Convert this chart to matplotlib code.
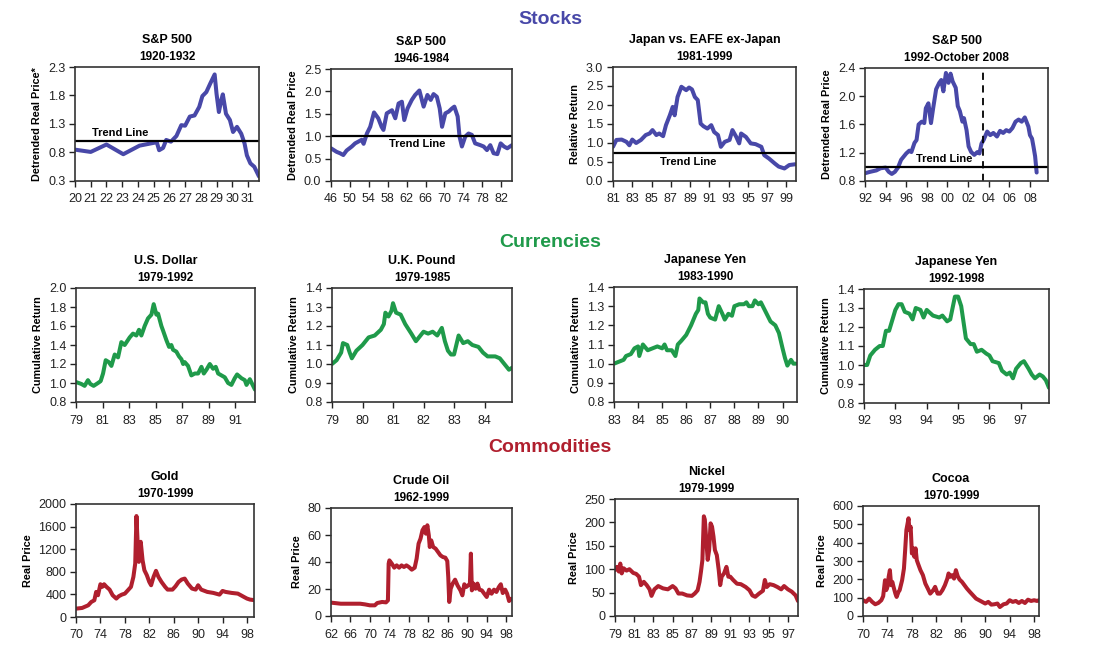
import matplotlib
matplotlib.use("Agg")
import matplotlib.pyplot as plt
from matplotlib.ticker import FuncFormatter

plt.rcParams['font.family'] = ['Liberation Sans', 'DejaVu Sans']

BLUE = '#4848a8'
GREEN = '#1f9a4a'
RED = '#b01f2e'

# ---- Stocks ----
sp1_x = [20, 21, 22, 23.07, 24.1, 25.2, 25.35, 25.6, 25.8, 26.1, 26.45, 26.76, 27.0, 27.3,
         27.6, 27.9, 28.1, 28.35, 28.6, 28.88, 29.0, 29.15, 29.3, 29.4, 29.6, 29.85, 30.05,
         30.3, 30.57, 30.78, 30.93, 31.15, 31.4, 31.7]
sp1_y = [0.85, 0.81, 0.94, 0.77, 0.92, 0.98, 0.84, 0.88, 1.02, 0.99, 1.09, 1.28, 1.27, 1.43,
         1.45, 1.60, 1.79, 1.86, 2.01, 2.17, 1.83, 1.51, 1.72, 1.82, 1.48, 1.37, 1.16,
         1.25, 1.13, 0.96, 0.75, 0.61, 0.55, 0.38]

sp2_x = [46, 47.2, 47.9, 48.6, 49.3, 50.4, 51.1, 51.8, 52.5, 52.9, 53.6, 54.3, 55.1, 56.0,
         56.7, 57.1, 57.8, 58.9, 59.6, 60.3, 61.0, 61.5, 62.2, 63.1, 63.8, 64.7, 65.6, 66.4,
         67.1, 67.7, 68.4, 69.0, 69.5, 70.2, 70.9, 71.6, 72.1, 72.8, 73.2, 73.7, 74.4, 75.1,
         75.8, 76.5, 77.6, 78.3, 79.0, 79.7, 80.4, 81.2, 81.9, 82.6, 83.3, 84.3]
sp2_y = [0.73, 0.65, 0.62, 0.58, 0.68, 0.77, 0.84, 0.88, 0.92, 0.83, 1.06, 1.21, 1.53, 1.40,
         1.21, 1.14, 1.51, 1.58, 1.40, 1.73, 1.77, 1.36, 1.62, 1.81, 1.92, 2.02, 1.66, 1.92,
         1.81, 1.94, 1.88, 1.62, 1.21, 1.51, 1.55, 1.62, 1.66, 1.44, 0.99, 0.77, 0.99, 1.06,
         1.03, 0.84, 0.80, 0.77, 0.69, 0.80, 0.62, 0.60, 0.84, 0.77, 0.73, 0.80]

jp_x = [81, 81.35, 81.9, 82.4, 82.7, 83.0, 83.4, 83.9, 84.4, 84.8, 85.1, 85.5, 85.8, 86.2,
        86.5, 86.9, 87.2, 87.4, 87.7, 88.1, 88.6, 88.9, 89.2, 89.5, 89.8, 90.1, 90.4, 90.8,
        91.2, 91.5, 91.9, 92.2, 92.6, 93.1, 93.4, 93.8, 94.1, 94.3, 94.8, 95.3, 95.8, 96.4,
        96.7, 97.2, 97.8, 98.2, 98.8, 99.3, 99.9]
jp_y = [0.90, 1.08, 1.09, 1.03, 0.94, 1.09, 1.00, 1.08, 1.21, 1.25, 1.34, 1.21, 1.25, 1.18,
        1.47, 1.73, 1.95, 1.73, 2.21, 2.48, 2.39, 2.46, 2.41, 2.21, 2.13, 1.51, 1.44, 1.38,
        1.47, 1.29, 1.21, 0.90, 1.03, 1.08, 1.34, 1.16, 0.99, 1.25, 1.16, 0.99, 0.97, 0.90,
        0.68, 0.59, 0.46, 0.38, 0.33, 0.42, 0.44]

sp3_x = [92.0, 92.5, 93.1, 93.5, 94.0, 94.3, 94.6, 94.9, 95.2, 95.5, 96.0, 96.3, 96.5, 96.8,
         97.0, 97.2, 97.5, 97.75, 97.9, 98.15, 98.4, 98.6, 98.9, 99.2, 99.4, 99.6, 99.85,
         100.1, 100.3, 100.5, 100.8, 101.0, 101.2, 101.45, 101.6, 101.85, 102.05, 102.3,
         102.6, 102.9, 103.1, 103.3, 103.5, 103.85, 104.15, 104.45, 104.8, 105.1, 105.4,
         105.7, 106.0, 106.3, 106.6, 106.9, 107.2, 107.5, 107.85, 108.0, 108.2, 108.35,
         108.5, 108.65]
sp3_y = [0.91, 0.93, 0.95, 0.98, 0.99, 0.93, 0.90, 0.93, 0.99, 1.10, 1.19, 1.23, 1.21, 1.34,
         1.38, 1.60, 1.64, 1.62, 1.83, 1.90, 1.62, 1.82, 2.10, 2.19, 2.23, 2.07, 2.33,
         2.19, 2.32, 2.21, 2.12, 1.86, 1.79, 1.64, 1.69, 1.52, 1.29, 1.21,
         1.17, 1.21, 1.19, 1.33, 1.38, 1.50, 1.45, 1.48, 1.43, 1.51, 1.48,
         1.52, 1.50, 1.55, 1.64, 1.67, 1.64, 1.70, 1.57, 1.45, 1.40, 1.28,
         1.15, 0.92]

# ---- Currencies ----
usd_x = [79.0, 79.4, 79.65, 79.9, 80.08, 80.33, 80.66, 80.86, 81.04, 81.24, 81.47, 81.67,
         81.92, 82.17, 82.42, 82.67, 83.05, 83.3, 83.55, 83.75, 83.93, 84.18, 84.43, 84.69,
         84.86, 85.06, 85.19, 85.44, 85.57, 85.82, 86.02, 86.19, 86.32, 86.57, 86.77, 86.95,
         87.08, 87.2, 87.45, 87.7, 87.96, 88.21, 88.46, 88.64, 88.84, 89.09, 89.34, 89.54,
         89.72, 89.97, 90.22, 90.47, 90.72, 90.97, 91.15, 91.48, 91.73, 91.86, 92.11, 92.5]
usd_y = [1.01, 0.99, 0.97, 1.03, 0.99, 0.97, 1.00, 1.02, 1.10, 1.24, 1.22, 1.18,
         1.30, 1.27, 1.43, 1.40, 1.48, 1.52, 1.50, 1.56, 1.50, 1.60, 1.68, 1.72,
         1.83, 1.72, 1.73, 1.60, 1.55, 1.45, 1.38, 1.40, 1.35, 1.33, 1.28, 1.25,
         1.20, 1.22, 1.18, 1.08, 1.10, 1.10, 1.17, 1.10, 1.14, 1.20, 1.15, 1.17,
         1.10, 1.08, 1.06, 1.00, 0.98, 1.05, 1.09, 1.05, 1.03, 0.98, 1.04, 0.93]

gbp_x = [79.0, 79.15, 79.3, 79.36, 79.5, 79.58, 79.65, 79.8, 80.0, 80.2, 80.4, 80.6, 80.7,
         80.75, 80.85, 80.95, 81.0, 81.1, 81.25, 81.4, 81.6, 81.75, 81.9, 82.0, 82.15, 82.3,
         82.45, 82.6, 82.7, 82.8, 82.9, 83.0, 83.15, 83.3, 83.45, 83.6, 83.8, 83.95, 84.1,
         84.35, 84.5, 84.7, 84.8, 84.9]
gbp_y = [1.00, 1.02, 1.06, 1.11, 1.10, 1.06, 1.03, 1.07, 1.10, 1.14, 1.15, 1.18, 1.21,
         1.27, 1.25, 1.28, 1.32, 1.27, 1.26, 1.21, 1.16, 1.12, 1.15, 1.17, 1.16, 1.17,
         1.15, 1.19, 1.12, 1.07, 1.05, 1.05, 1.15, 1.11, 1.12, 1.10, 1.09, 1.06, 1.04,
         1.04, 1.03, 0.99, 0.97, 0.98]

yen1_x = [83.0, 83.2, 83.4, 83.5, 83.7, 83.85, 84.0, 84.05, 84.2, 84.4, 84.6, 84.8, 85.0,
          85.1, 85.2, 85.4, 85.55, 85.65, 85.8, 86.0, 86.2, 86.4, 86.5, 86.55, 86.7, 86.8,
          86.9, 87.0, 87.2, 87.35, 87.5, 87.6, 87.75, 87.9, 88.0, 88.2, 88.4, 88.5, 88.6,
          88.75, 88.85, 89.0, 89.1, 89.3, 89.5, 89.7, 89.85, 90.0, 90.1, 90.2, 90.35, 90.45,
          90.55]
yen1_y = [1.00, 1.01, 1.02, 1.04, 1.05, 1.08, 1.09, 1.04, 1.10, 1.07, 1.08, 1.09, 1.08,
          1.10, 1.07, 1.07, 1.04, 1.10, 1.12, 1.15, 1.20, 1.26, 1.28, 1.34, 1.32, 1.32,
          1.26, 1.24, 1.23, 1.30, 1.26, 1.23, 1.26, 1.25, 1.30, 1.31, 1.31, 1.32, 1.30,
          1.30, 1.33, 1.31, 1.32, 1.27, 1.22, 1.20, 1.16, 1.08, 1.03, 0.99, 1.02, 1.00,
          1.00]

yen2_x = [92.0, 92.1, 92.2, 92.35, 92.5, 92.6, 92.7, 92.8, 93.0, 93.1, 93.2, 93.3, 93.45,
          93.55, 93.65, 93.8, 93.9, 94.0, 94.2, 94.4, 94.5, 94.65, 94.75, 94.9, 95.0, 95.1,
          95.25, 95.4, 95.5, 95.6, 95.75, 95.9, 96.0, 96.1, 96.3, 96.4, 96.55, 96.65, 96.75,
          96.85, 97.0, 97.1, 97.25, 97.35, 97.45, 97.6, 97.7, 97.8, 97.9]
yen2_y = [1.00, 1.00, 1.05, 1.08, 1.10, 1.10, 1.18, 1.18, 1.29, 1.32, 1.32, 1.28, 1.27,
          1.24, 1.30, 1.29, 1.25, 1.29, 1.26, 1.25, 1.26, 1.23, 1.24, 1.36, 1.36, 1.31,
          1.14, 1.11, 1.11, 1.07, 1.08, 1.06, 1.05, 1.02, 1.01, 0.97, 0.95, 0.96, 0.93,
          0.98, 1.01, 1.02, 0.98, 0.95, 0.93, 0.95, 0.94, 0.92, 0.88]

# ---- Commodities ----
gold_x = [70.0, 71.0, 72.0, 72.5, 73.0, 73.3, 73.6, 74.0, 74.3, 74.6, 75.0, 75.5, 76.0, 76.6,
          77.0, 77.5, 78.0, 78.5, 79.0, 79.4, 79.7, 79.9, 80.1, 80.3, 80.6, 80.9, 81.2, 81.6,
          82.0, 82.3, 82.7, 83.1, 83.5, 84.0, 84.6, 85.0, 85.8, 86.3, 86.8, 87.3, 87.8, 88.3,
          89.0, 89.6, 90.0, 90.5, 91.5, 92.5, 93.5, 94.0, 94.5, 95.5, 96.5, 97.0, 97.5, 98.0,
          98.5, 99.1]
gold_y = [148, 160, 207, 266, 296, 444, 385, 580, 533, 580, 533, 485, 385, 326,
          367, 396, 414, 473, 533, 710, 947, 1787, 1302, 976, 1331, 1006, 828, 740,
          621, 562, 710, 817, 710, 621, 533, 485, 485, 544, 621, 663, 680, 592,
          503, 485, 562, 485, 444, 426, 396, 461, 444, 426, 414, 385, 355, 326,
          308, 300]

oil_x = [62, 64, 66, 68, 69, 70, 71, 71.5, 72.5, 73.3, 73.7, 73.85, 74.0, 74.5, 75.0, 75.5,
         76.0, 76.5, 77.0, 77.5, 78.0, 78.6, 79.2, 79.6, 80.0, 80.4, 80.8, 81.2, 81.5, 81.8,
         82.1, 82.3, 82.6, 83.0, 83.5, 84.0, 84.5, 85.0, 85.5, 85.9, 86.1, 86.3, 86.6, 87.0,
         87.5, 88.0, 88.6, 89.0, 89.4, 89.8, 90.2, 90.55, 90.75, 90.95, 91.3, 91.7, 92.1,
         92.5, 93.0, 93.5, 94.0, 94.5, 95.0, 95.5, 96.0, 96.5, 96.9, 97.3, 97.8, 98.2, 98.6,
         99.0]
oil_y = [9.9, 9.1, 9.1, 9.1, 8.6, 7.9, 7.9, 9.6, 10.4, 10.1, 11.6, 38.8, 41.2, 38.8, 35.8,
         37.5, 35.8, 37.5, 36.3, 37.5, 36.3, 34.3, 35.8, 42.5, 53.6, 57.3, 63.5, 65.9, 61.0,
         67.2, 59.8, 51.1, 56.0, 51.1, 49.9, 47.4, 44.9, 43.7, 43.2, 40.7, 28.9, 10.4, 20.2,
         24.0, 26.9, 22.7, 19.0, 15.3, 23.5, 21.5, 22.7, 24.0, 46.2, 19.0, 24.0, 20.2, 24.0,
         19.5, 19.0, 16.5, 14.1, 19.5, 16.5, 19.5, 17.8, 21.5, 23.5, 17.0, 19.5, 16.5, 11.1,
         12.8]

nickel_x = [79.0, 79.2, 79.4, 79.55, 79.7, 79.9, 80.2, 80.5, 80.9, 81.2, 81.5, 81.7, 82.0,
            82.3, 82.6, 82.8, 83.1, 83.5, 84.0, 84.5, 85.0, 85.3, 85.6, 86.0, 86.5, 87.0,
            87.3, 87.6, 87.8, 87.95, 88.1, 88.25, 88.35, 88.5, 88.65, 88.8, 88.95, 89.1,
            89.25, 89.4, 89.6, 89.8, 89.95, 90.1, 90.35, 90.6, 90.8, 91.0, 91.3, 91.7, 92.1,
            92.6, 93.0, 93.3, 93.6, 94.0, 94.4, 94.6, 94.8, 95.1, 95.5, 95.9, 96.3, 96.6,
            97.0, 97.4, 97.8, 98.05]
nickel_y = [98, 105, 95, 112, 91, 102, 97, 100, 92, 90, 84, 66, 73,
            66, 57, 43, 57, 64, 59, 57, 64, 59, 48, 48, 44, 43,
            48, 55, 73, 95, 120, 213, 206, 163, 120, 141, 198, 191,
            170, 141, 130, 98, 66, 84, 91, 105, 84, 84, 77, 69, 68,
            62, 55, 44, 41, 48, 54, 77, 62, 68, 66, 62, 57, 64,
            57, 52, 44, 32]

cocoa_x = [70.0, 70.5, 71.0, 71.5, 72.0, 72.5, 73.0, 73.3, 73.6, 73.8, 74.0, 74.2, 74.4, 74.6,
           74.8, 75.0, 75.3, 75.5, 75.8, 76.0, 76.4, 76.7, 76.9, 77.1, 77.3, 77.45, 77.6,
           77.8, 78.0, 78.2, 78.4, 78.6, 78.8, 79.0, 79.4, 79.8, 80.2, 80.6, 81.0, 81.5,
           81.8, 82.2, 82.6, 83.0, 83.4, 83.8, 84.0, 84.3, 84.6, 84.9, 85.2, 85.5, 85.8,
           86.2, 86.6, 87.0, 87.5, 88.0, 88.5, 89.0, 89.5, 90.0, 90.5, 91.0, 91.5, 92.0,
           92.4, 93.0, 93.5, 94.0, 94.5, 95.0, 95.5, 96.0, 96.5, 97.0, 97.5, 98.0, 98.5,
           98.8]
cocoa_y = [86, 77, 95, 77, 64, 71, 86, 108, 195, 141, 159, 214, 250, 168,
           186, 159, 122, 104, 131, 141, 195, 259, 360, 469, 505, 533, 469,
           487, 341, 369, 323, 369, 305, 286, 250, 223, 177, 150, 122, 141,
           159, 122, 122, 141, 168, 204, 232, 214, 223, 204, 250, 217, 199,
           186, 168, 150, 131, 113, 95, 86, 77, 68, 77, 62, 64, 68,
           49, 64, 68, 86, 77, 82, 71, 82, 71, 89, 82, 86, 82,
           86]

fig = plt.figure(figsize=(11, 6.47), dpi=100)


def box(l, t, r, b):
    return [l / 1100, 1 - b / 647, (r - l) / 1100, (b - t) / 647]


def yr_fmt(v, pos):
    return f"{int(round(v)) % 100:02d}"


def panel(rect, xs, ys, color, title, sub, ylabel, xticks, xlim, yticks, yfmt):
    ax = fig.add_axes(box(*rect))
    ax.plot(xs, ys, color=color, lw=2.9, solid_joinstyle='round', solid_capstyle='round')
    ax.set_xlim(xlim)
    ax.set_ylim(yticks[0], yticks[-1])
    ax.set_xticks(xticks)
    ax.set_yticks(yticks)
    ax.set_yticklabels([yfmt.format(v) for v in yticks])
    ax.xaxis.set_major_formatter(FuncFormatter(yr_fmt))
    ax.tick_params(direction='out', length=4, width=1, labelsize=9, color='#222222',
                   labelcolor='#222222')
    ax.tick_params(axis='x', pad=5)
    ax.tick_params(axis='y', pad=3)
    for s in ax.spines.values():
        s.set_color('#333333')
        s.set_linewidth(1.2)
    ax.set_ylabel(ylabel, fontsize=7.8, fontweight='bold', labelpad=4)
    ax.annotate(title, xy=(0.5, 1), xycoords='axes fraction', xytext=(0, 19.5),
                textcoords='offset points', ha='center', va='center',
                fontsize=9, fontweight='bold')
    ax.annotate(sub, xy=(0.5, 1), xycoords='axes fraction', xytext=(0, 7.5),
                textcoords='offset points', ha='center', va='center',
                fontsize=8.5, fontweight='bold')
    return ax


def trend(ax, level, tx, ty):
    ax.axhline(level, color='black', lw=1.6)
    ax.text(tx, ty, 'Trend Line', ha='center', va='center', fontsize=8, fontweight='bold')


# Stocks row
ax = panel((75, 67, 259, 181), sp1_x, sp1_y, BLUE, 'S&P 500', '1920-1932',
           'Detrended Real Price*', list(range(20, 32)), (20, 31.7),
           [0.3, 0.8, 1.3, 1.8, 2.3], '{:.1f}')
trend(ax, 1.0, 22.9, 1.14)

ax = panel((331, 69, 512, 181), sp2_x, sp2_y, BLUE, 'S&P 500', '1946-1984',
           'Detrended Real Price', list(range(46, 83, 4)), (46, 84.3),
           [0, 0.5, 1.0, 1.5, 2.0, 2.5], '{:.1f}')
trend(ax, 1.0, 64.2, 0.82)

ax = panel((613, 67, 796, 181), jp_x, jp_y, BLUE, 'Japan vs. EAFE ex-Japan', '1981-1999',
           'Relative Return', list(range(81, 100, 2)), (81, 100),
           [0, 0.5, 1.0, 1.5, 2.0, 2.5, 3.0], '{:.1f}')
trend(ax, 0.74, 88.8, 0.5)

ax = panel((865, 68, 1048, 181), sp3_x, sp3_y, BLUE, 'S&P 500', '1992-October 2008',
           'Detrended Real Price', list(range(92, 109, 2)), (92, 109.75),
           [0.8, 1.2, 1.6, 2.0, 2.4], '{:.1f}')
trend(ax, 1.0, 99.7, 1.11)
ax.axvline(103.4, color='black', lw=1.3, dashes=(4, 3))

# Currencies row
panel((76, 288, 255, 402), usd_x, usd_y, GREEN, 'U.S. Dollar', '1979-1992',
      'Cumulative Return', list(range(79, 92, 2)), (79, 92.5),
      [0.8, 1.0, 1.2, 1.4, 1.6, 1.8, 2.0], '{:.1f}')
panel((332, 288, 512, 402), gbp_x, gbp_y, GREEN, 'U.K. Pound', '1979-1985',
      'Cumulative Return', list(range(79, 85)), (79, 84.9),
      [0.8, 0.9, 1.0, 1.1, 1.2, 1.3, 1.4], '{:.1f}')
panel((614, 287, 797, 402), yen1_x, yen1_y, GREEN, 'Japanese Yen', '1983-1990',
      'Cumulative Return', list(range(83, 91)), (83, 90.6),
      [0.8, 0.9, 1.0, 1.1, 1.2, 1.3, 1.4], '{:.1f}')
panel((864, 289, 1049, 403), yen2_x, yen2_y, GREEN, 'Japanese Yen', '1992-1998',
      'Cumulative Return', list(range(92, 98)), (92, 97.9),
      [0.8, 0.9, 1.0, 1.1, 1.2, 1.3, 1.4], '{:.1f}')

# Commodities row
panel((76, 504, 254, 617), gold_x, gold_y, RED, 'Gold', '1970-1999',
      'Real Price', list(range(70, 99, 4)), (70, 99.15),
      [0, 400, 800, 1200, 1600, 2000], '{:.0f}')
panel((331, 508, 512, 616), oil_x, oil_y, RED, 'Crude Oil', '1962-1999',
      'Real Price', list(range(62, 99, 4)), (62, 99.2),
      [0, 20, 40, 60, 80], '{:.0f}')
panel((615, 499, 798, 616), nickel_x, nickel_y, RED, 'Nickel', '1979-1999',
      'Real Price', list(range(79, 98, 2)), (79, 98.05),
      [0, 50, 100, 150, 200, 250], '{:.0f}')
panel((863, 506, 1039, 616), cocoa_x, cocoa_y, RED, 'Cocoa', '1970-1999',
      'Real Price', list(range(70, 99, 4)), (70, 98.8),
      [0, 100, 200, 300, 400, 500, 600], '{:.0f}')

# Section headings
fig.text(0.5, 1 - 20 / 647, 'Stocks', ha='center', va='center', fontsize=14,
         fontweight='bold', color=BLUE)
fig.text(0.5, 1 - 242 / 647, 'Currencies', ha='center', va='center', fontsize=14,
         fontweight='bold', color=GREEN)
fig.text(0.5, 1 - 447 / 647, 'Commodities', ha='center', va='center', fontsize=14,
         fontweight='bold', color=RED)

fig.savefig('out.png', dpi=100)
